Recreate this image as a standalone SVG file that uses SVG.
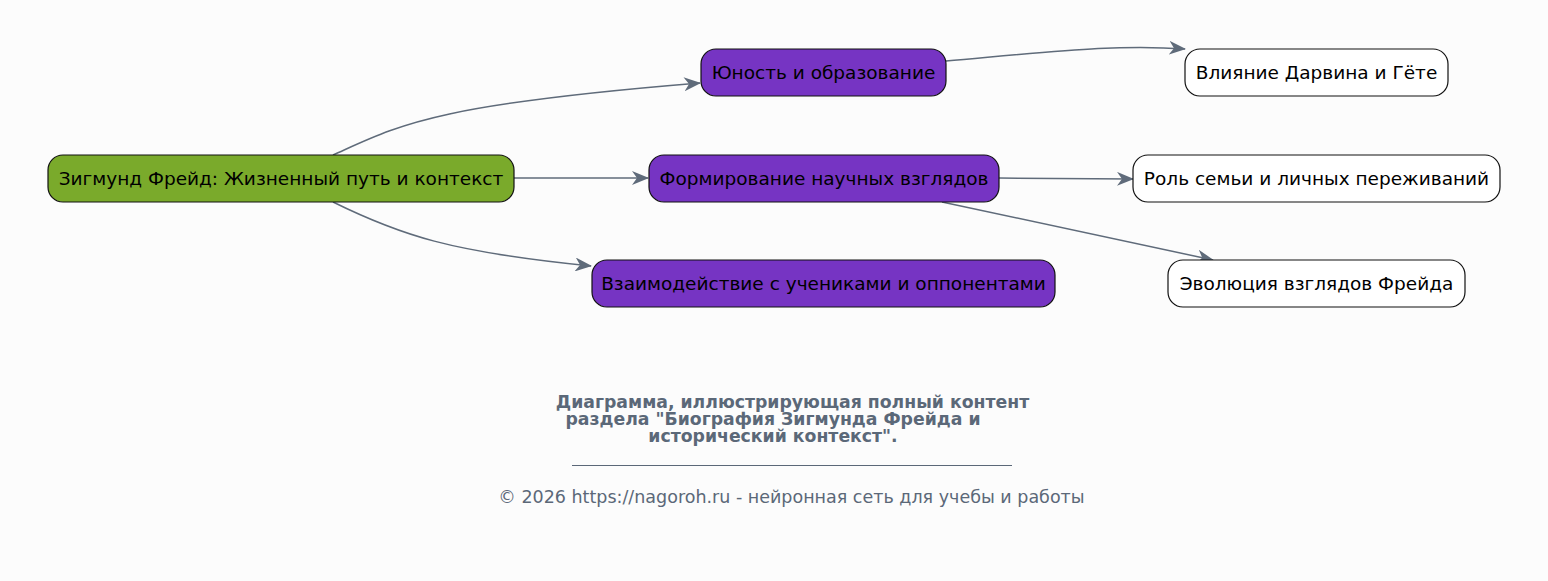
<svg xmlns="http://www.w3.org/2000/svg" width="1548" height="581" viewBox="0 0 1548 581">
<defs>
<style>
.node rect{stroke:#111;stroke-width:1.2}
.root rect{fill:#7aaa2b}
.mid rect{fill:#7634c3}
.leaf rect{fill:#fff}
.node text{font-family:"DejaVu Sans",sans-serif;font-size:18.5px;fill:#000;text-anchor:middle;dominant-baseline:central}
.edge{fill:none;stroke:#5f6b7a;stroke-width:1.5;marker-end:url(#arr)}
.cap{font-family:"DejaVu Sans",sans-serif;fill:#5b6878;text-anchor:middle}
</style>
<marker id="arr" markerWidth="20" markerHeight="14" refX="16" refY="7" orient="auto" markerUnits="userSpaceOnUse">
<path d="M0,0 L17,7 L0,14 L5,7 Z" fill="#5f6b7a"/>
</marker>
</defs>
<rect width="1548" height="581" fill="#fcfcfc"/>
<g id="connectors">
<path class="edge" d="M333,155 C400,125 430,105 700,83"/>
<path class="edge" d="M514,178 L648,178"/>
<path class="edge" d="M333,202 C400,235 450,252 591,266"/>
<path class="edge" d="M946,61 C1060,51 1120,44 1185,49"/>
<path class="edge" d="M999,178 L1133,179"/>
<path class="edge" d="M942,202 L1213,260"/>
</g>
<g id="n-root" class="node root"><rect x="48" y="155" width="466" height="47" rx="15"/><text x="281" y="178.5">Зигмунд Фрейд: Жизненный путь и контекст</text></g>
<g id="n-youth" class="node mid"><rect x="701" y="49" width="245" height="47" rx="15"/><text x="823.5" y="72.5">Юность и образование</text></g>
<g id="n-form" class="node mid"><rect x="649" y="155" width="350" height="47" rx="15"/><text x="824" y="178.5">Формирование научных взглядов</text></g>
<g id="n-inter" class="node mid"><rect x="592" y="260" width="463" height="47" rx="15"/><text x="823.5" y="283.5">Взаимодействие с учениками и оппонентами</text></g>
<g id="n-darwin" class="node leaf"><rect x="1185" y="49" width="263" height="47" rx="15"/><text x="1316.5" y="72.5">Влияние Дарвина и Гёте</text></g>
<g id="n-family" class="node leaf"><rect x="1133" y="155" width="367" height="47" rx="15"/><text x="1316.5" y="178.5">Роль семьи и личных переживаний</text></g>
<g id="n-evol" class="node leaf"><rect x="1168" y="260" width="297" height="47" rx="15"/><text x="1316.5" y="283.5">Эволюция взглядов Фрейда</text></g>
<g id="caption">
<text class="cap" font-size="17.3" font-weight="bold"><tspan x="792.5" y="408">Диаграмма, иллюстрирующая полный контент</tspan><tspan x="773" y="425">раздела "Биография Зигмунда Фрейда и</tspan><tspan x="773" y="442">исторический контекст".</tspan></text>
<line x1="572" y1="465.5" x2="1012" y2="465.5" stroke="#5b6878" stroke-width="1"/>
<text class="cap" x="791.5" y="503" font-size="17.5">© 2026 https://nagoroh.ru - нейронная сеть для учебы и работы</text>
</g>
</svg>
